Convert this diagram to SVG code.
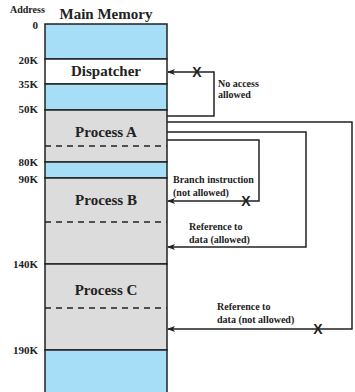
<svg xmlns="http://www.w3.org/2000/svg" width="355" height="392" viewBox="0 0 355 392">
<defs>
<style>
.t{font-family:"Liberation Serif","Times New Roman",serif;font-weight:bold;fill:#222}
.big{font-size:15px}
.addr{font-size:11px}
.sm{font-size:10px}
.blue{fill:#a7def7;stroke:#222;stroke-width:1.5}
.grey{fill:#dcdcdc;stroke:#222;stroke-width:1.5}
.white{fill:#fff;stroke:#222;stroke-width:1.5}
.dash{stroke:#222;stroke-width:1.5;stroke-dasharray:6,5;fill:none}
.conn{fill:none;stroke:#222;stroke-width:1.5}
.x{font-family:"Liberation Sans",Arial,sans-serif;font-weight:bold;font-size:14px;fill:#222}
</style>
<marker id="ah" markerWidth="8" markerHeight="6" refX="7" refY="3" orient="auto" markerUnits="userSpaceOnUse">
<path d="M0,0 L8,3 L0,6 L2,3 Z" fill="#222"/>
</marker>
</defs>
<rect width="355" height="392" fill="#fff"/>
<g id="labels">
<text class="t" x="10" y="13" font-size="10">Address</text>
<text class="t big" x="106" y="19" text-anchor="middle">Main Memory</text>
<text class="t addr" x="38" y="29" text-anchor="end">0</text>
<text class="t addr" x="38" y="64" text-anchor="end">20K</text>
<text class="t addr" x="38" y="88" text-anchor="end">35K</text>
<text class="t addr" x="38" y="113" text-anchor="end">50K</text>
<text class="t addr" x="38" y="166" text-anchor="end">80K</text>
<text class="t addr" x="38" y="183" text-anchor="end">90K</text>
<text class="t addr" x="38" y="268" text-anchor="end">140K</text>
<text class="t addr" x="38" y="354" text-anchor="end">190K</text>
</g>
<g id="free0"><rect class="blue" x="45" y="24" width="122" height="35"/></g>
<g id="dispatcher"><rect class="white" x="45" y="59" width="122" height="25"/>
<text class="t big" x="106" y="76" text-anchor="middle">Dispatcher</text></g>
<g id="free1"><rect class="blue" x="45" y="84" width="122" height="26"/></g>
<g id="processA"><rect class="grey" x="45" y="110" width="122" height="52"/>
<text class="t big" x="106" y="137" text-anchor="middle">Process A</text>
<line class="dash" x1="45" y1="146" x2="167" y2="146"/></g>
<g id="free2"><rect class="blue" x="45" y="162" width="122" height="16"/></g>
<g id="processB"><rect class="grey" x="45" y="178" width="122" height="86"/>
<text class="t big" x="106" y="205" text-anchor="middle">Process B</text>
<line class="dash" x1="45" y1="222" x2="167" y2="222"/></g>
<g id="processC"><rect class="grey" x="45" y="264" width="122" height="86"/>
<text class="t big" x="106" y="295" text-anchor="middle">Process C</text>
<line class="dash" x1="45" y1="308" x2="167" y2="308"/></g>
<g id="free3"><rect class="blue" x="45" y="350" width="122" height="45"/></g>
<g id="connectors">
<path class="conn" d="M167,116 H214 V72 H168" marker-end="url(#ah)"/>
<path class="conn" d="M167,122 H352 V329 H168" marker-end="url(#ah)"/>
<path class="conn" d="M167,132 H306 V247 H168" marker-end="url(#ah)"/>
<path class="conn" d="M167,140 H259 V201 H168" marker-end="url(#ah)"/>
<text class="x" x="197" y="77" text-anchor="middle">X</text>
<text class="x" x="246" y="206" text-anchor="middle">X</text>
<text class="x" x="318" y="334" text-anchor="middle">X</text>
<text class="t sm" x="218" y="87" >No access</text>
<text class="t sm" x="218" y="98">allowed</text>
<text class="t sm" x="173" y="183">Branch instruction</text>
<text class="t sm" x="173" y="196">(not allowed)</text>
<text class="t sm" x="189" y="230">Reference to</text>
<text class="t sm" x="189" y="243">data (allowed)</text>
<text class="t sm" x="217" y="310">Reference to</text>
<text class="t sm" x="217" y="323">data (not allowed)</text>
</g>
</svg>
